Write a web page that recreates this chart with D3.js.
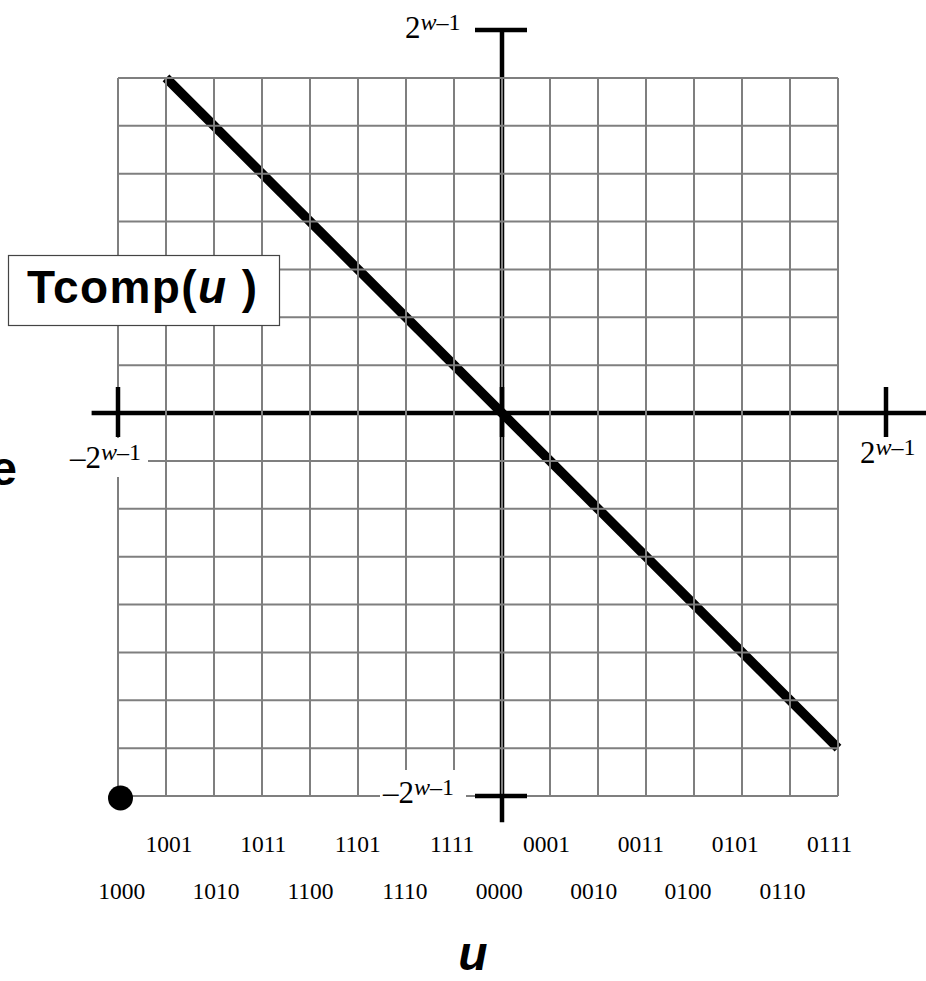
<!DOCTYPE html>
<html>
<head>
<meta charset="utf-8">
<script src="https://cdn.jsdelivr.net/npm/d3@7"></script>
<style>
  body { margin: 0; background: #fff; }
  svg { display: block; }
</style>
</head>
<body>
<svg width="926" height="981"></svg>
<script>
// grid values (u and Tcomp(u) both run -8..7 for w = 4)
const gridValues = [-8, -7, -6, -5, -4, -3, -2, -1, 0, 1, 2, 3, 4, 5, 6, 7]
// the Tcomp(u) line, drawn from u = -7 to u = 7
const lineU = [-7, 7]
const lineT = [7, -7]
// the odd point: Tcomp(-8) = -8
const dotU = [-8]
const dotT = [-8]
// bit patterns along the bottom
const oddU = [-7, -5, -3, -1, 1, 3, 5, 7]
const oddCodes = ["1001", "1011", "1101", "1111", "0001", "0011", "0101", "0111"]
const evenU = [-8, -6, -4, -2, 0, 2, 4, 6]
const evenCodes = ["1000", "1010", "1100", "1110", "0000", "0010", "0100", "0110"]
// axis end ticks
const axisTicks = [-8, 0, 8]

const svg = d3.select("svg")
const x = d3.scaleLinear().domain([-8, 8]).range([118, 886])
const y = d3.scaleLinear().domain([-8, 8]).range([796, 30])
const labelX = d3.scaleLinear().domain([-8, 7]).range([121.7, 829.7])

const gridColor = "#7f7f7f"

// vertical axis line (under the grid)
svg.append("line")
  .attr("x1", x(0)).attr("x2", x(0))
  .attr("y1", y(8)).attr("y2", y(-8.55))
  .attr("stroke", "#000").attr("stroke-width", 4.5)

// the Tcomp line
svg.append("line")
  .attr("x1", x(lineU[0])).attr("y1", y(lineT[0]))
  .attr("x2", x(lineU[1])).attr("y2", y(lineT[1]))
  .attr("stroke", "#000").attr("stroke-width", 9.5)

// horizontal grid lines
svg.append("g").selectAll("line")
  .data(gridValues).enter()
  .append("line")
  .attr("x1", x(-8)).attr("x2", x(7))
  .attr("y1", d => y(d)).attr("y2", d => y(d))
  .attr("stroke", gridColor).attr("stroke-width", 2)

// horizontal axis line
svg.append("line")
  .attr("x1", x(-8.55)).attr("x2", x(9))
  .attr("y1", y(0)).attr("y2", y(0))
  .attr("stroke", "#000").attr("stroke-width", 4.5)

// vertical grid lines
svg.append("g").selectAll("line")
  .data(gridValues).enter()
  .append("line")
  .attr("y1", y(7)).attr("y2", y(-8))
  .attr("x1", d => x(d)).attr("x2", d => x(d))
  .attr("stroke", gridColor).attr("stroke-width", 2)

// ticks on horizontal axis
svg.append("g").selectAll("line")
  .data(axisTicks).enter()
  .append("line")
  .attr("x1", d => x(d)).attr("x2", d => x(d))
  .attr("y1", y(0) - 26).attr("y2", y(0) + 24)
  .attr("stroke", "#000").attr("stroke-width", 4.5)

// white patches behind the -2^(w-1) labels
svg.append("rect").attr("x", 66).attr("y", 438).attr("width", 82).attr("height", 39).attr("fill", "#fff")
svg.append("rect").attr("x", 380).attr("y", 770).attr("width", 86).attr("height", 42).attr("fill", "#fff")

// ticks on vertical axis (top and bottom)
svg.append("g").selectAll("line")
  .data([8, -8]).enter()
  .append("line")
  .attr("x1", x(0) - 27).attr("x2", x(0) + 25)
  .attr("y1", d => y(d)).attr("y2", d => y(d))
  .attr("stroke", "#000").attr("stroke-width", 4.5)

// power labels
function powLabel(px, py, neg) {
  const t = svg.append("text")
    .attr("x", px).attr("y", py)
    .style("font-family", "'Liberation Serif', 'Times New Roman', serif")
    .style("font-size", "31px")
  t.append("tspan").text(neg ? "\u20132" : "2")
  t.append("tspan").attr("dy", -8).style("font-size", "24px").style("font-style", "italic").text("w")
  t.append("tspan").style("font-size", "24px").text("\u20131")
}
powLabel(405, 38, false)
powLabel(70, 468, true)
powLabel(860, 463, false)
powLabel(383, 803, true)

// the odd point
svg.append("g").selectAll("circle")
  .data(dotU).enter()
  .append("circle")
  .attr("cx", (d, i) => x(d) + 2.5)
  .attr("cy", (d, i) => y(dotT[i]) + 2)
  .attr("r", 12.5)
  .attr("fill", "#000")

// bit patterns
const codeFont = "'Liberation Serif', 'Times New Roman', serif"
svg.append("g").selectAll("text")
  .data(oddU).enter()
  .append("text")
  .attr("x", d => labelX(d)).attr("y", 852)
  .attr("text-anchor", "middle")
  .style("font-family", codeFont).style("font-size", "23.5px")
  .text((d, i) => oddCodes[i])

svg.append("g").selectAll("text")
  .data(evenU).enter()
  .append("text")
  .attr("x", d => labelX(d)).attr("y", 899)
  .attr("text-anchor", "middle")
  .style("font-family", codeFont).style("font-size", "23.5px")
  .text((d, i) => evenCodes[i])

// Tcomp(u) box
svg.append("rect")
  .attr("x", 8.5).attr("y", 255.5).attr("width", 271).attr("height", 70)
  .attr("fill", "#fff").attr("stroke", "#444").attr("stroke-width", 1.2)

const sans = "'Liberation Sans', Arial, Helvetica, sans-serif"
const tc = svg.append("text")
  .attr("x", 27).attr("y", 303)
  .style("font-family", sans).style("font-size", "46px").style("font-weight", "bold")
  .style("letter-spacing", "1.4px")
tc.append("tspan").text("Tcomp(")
tc.append("tspan").style("font-style", "italic").text("u")
tc.append("tspan").text(" )")

// cut-off left label
svg.append("text")
  .attr("x", 17).attr("y", 485)
  .attr("text-anchor", "end")
  .style("font-family", sans).style("font-size", "48px").style("font-weight", "bold")
  .text("e")

// u axis title
svg.append("text")
  .attr("x", 473).attr("y", 970)
  .attr("text-anchor", "middle")
  .style("font-family", sans).style("font-size", "48px")
  .style("font-weight", "bold").style("font-style", "italic")
  .text("u")
</script>
</body>
</html>
